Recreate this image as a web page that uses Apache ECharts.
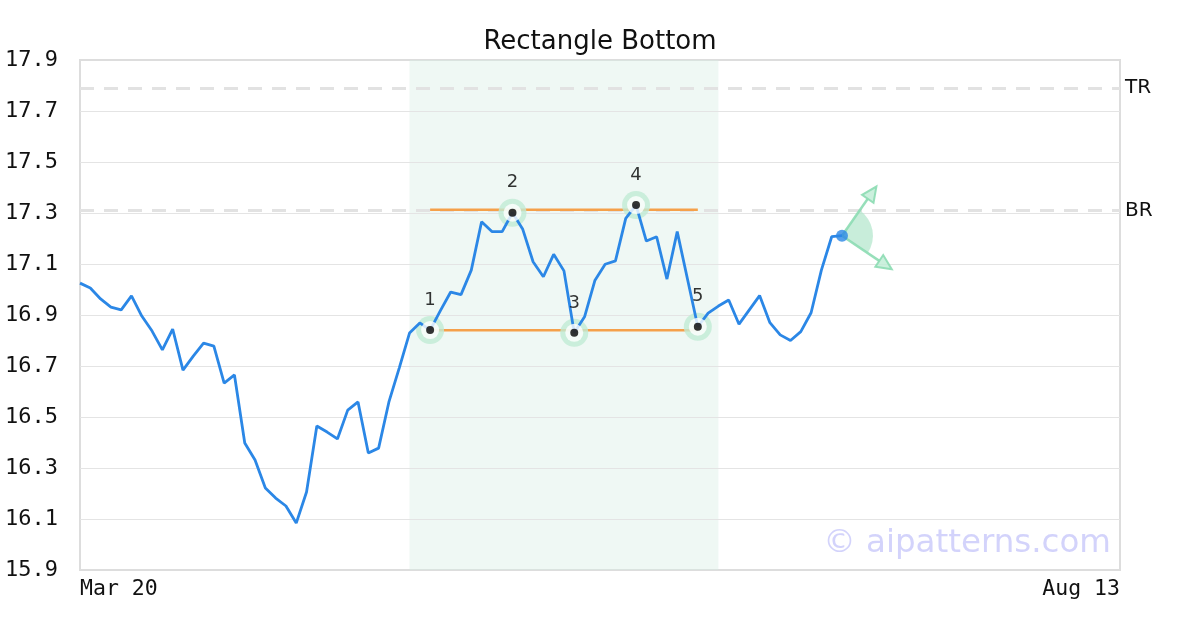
<!DOCTYPE html>
<html>
<head>
<meta charset="utf-8">
<script src="https://cdn.jsdelivr.net/npm/echarts@6/dist/echarts.min.js"></script>
<style>html,body{margin:0;padding:0;background:#fff}#c{width:1200px;height:630px}</style>
</head>
<body>
<div id="c"></div>
<script>
// ---- data ----
const slotCount = 102;              // x slots from Mar 20 to Aug 13
const xLabels = ['Mar 20', 'Aug 13'];
const price = [
  17.025, 17.006, 16.963, 16.931, 16.920, 16.975, 16.896, 16.837, 16.763, 16.845,
  16.684, 16.739, 16.790, 16.778, 16.633, 16.665, 16.398, 16.331, 16.222, 16.182,
  16.151, 16.084, 16.206, 16.465, 16.441, 16.414, 16.527, 16.559, 16.359, 16.378,
  16.559, 16.692, 16.829, 16.869, 16.841, 16.917, 16.990, 16.980, 17.076, 17.266,
  17.227, 17.227, 17.301, 17.236, 17.109, 17.050, 17.138, 17.073, 16.830, 16.893,
  17.035, 17.099, 17.112, 17.279, 17.331, 17.190, 17.207, 17.041, 17.227, 17.040,
  16.854, 16.907, 16.935, 16.959, 16.864, 16.920, 16.976, 16.870, 16.822, 16.800,
  16.835, 16.909, 17.076, 17.207, 17.211
];
const patternIdx = [34, 42, 48, 54, 60];
const patternLabels = ['1', '2', '3', '4', '5'];
const topLevel = 17.313;
const bottomLevel = 16.840;
const trLevel = 17.79;
const brLevel = 17.314;
const zoneStart = 32, zoneEnd = 62;
const yTicks = [15.9, 16.1, 16.3, 16.5, 16.7, 16.9, 17.1, 17.3, 17.5, 17.7, 17.9];

// ---- build ----
const lineData = price.map((v, i) => [i, v]);
const patternData = patternIdx.map((i, k) => ({ value: [i, price[i]], name: patternLabels[k] }));
const lastPt = [price.length - 1, price[price.length - 1]];
const lineColor = '#2b87e6';
const mono = 'DejaVu Sans Mono';

const chart = echarts.init(document.getElementById('c'), null, { renderer: 'canvas' });
chart.setOption({
  animation: false,
  backgroundColor: '#fff',
  title: {
    text: 'Rectangle Bottom', left: 'center', top: 24,
    textStyle: { fontFamily: 'DejaVu Sans', fontSize: 26, fontWeight: 'normal', color: '#111' }
  },
  grid: { left: 80, right: 80, top: 60, bottom: 60, show: true, borderColor: '#dddddd', borderWidth: 2, backgroundColor: 'transparent' },
  xAxis: {
    type: 'value', min: 0, max: slotCount - 1, interval: slotCount - 1,
    axisLine: { show: false }, axisTick: { show: false }, splitLine: { show: false },
    axisLabel: {
      fontFamily: mono, fontSize: 21.5, color: '#111', margin: 8,
      alignMinLabel: 'left', alignMaxLabel: 'right',
      formatter: v => (v === 0 ? xLabels[0] : xLabels[1])
    }
  },
  yAxis: {
    type: 'value', min: 15.9, max: 17.9, interval: 0.1,
    axisLine: { show: false }, axisTick: { show: false }, splitLine: { show: false },
    axisLabel: {
      fontFamily: mono, fontSize: 22, color: '#111', margin: 22,
      formatter: v => {
        const t = Math.round(v * 10);
        return t % 2 === 1 ? (t / 10).toFixed(1) : '';
      }
    }
  },
  series: [
    { // shaded zone
      type: 'line', data: [], z: 0, silent: true,
      markArea: { z: 0, silent: true, itemStyle: { color: 'rgba(214,238,228,0.4)' },
        data: [[{ xAxis: zoneStart }, { xAxis: zoneEnd }]] }
    },
    { // grid lines + TR/BR
      type: 'line', data: [], z: 1, silent: true,
      markLine: {
        z: 1, silent: true, symbol: 'none', animation: false,
        data: yTicks.slice(1, -1).map(v => ({ yAxis: v, lineStyle: { color: '#e4e4e4', width: 1, type: 'solid' }, label: { show: false } }))
          .concat([
            { yAxis: trLevel, lineStyle: { color: '#e2e2e2', width: 3, type: [14, 10] },
              label: { show: true, position: 'end', formatter: 'TR', fontFamily: 'DejaVu Sans', fontSize: 20, color: '#111', distance: 5 } },
            { yAxis: brLevel, lineStyle: { color: '#e2e2e2', width: 3, type: [14, 10] },
              label: { show: true, position: 'end', formatter: 'BR', fontFamily: 'DejaVu Sans', fontSize: 20, color: '#111', distance: 5 } }
          ])
      }
    },
    { type: 'line', z: 11, data: [[patternIdx[0], topLevel], [patternIdx[4], topLevel]], showSymbol: false,
      lineStyle: { color: '#f5a04a', width: 2.5 }, silent: true },
    { type: 'line', z: 11, data: [[patternIdx[0], bottomLevel], [patternIdx[4], bottomLevel]], showSymbol: false,
      lineStyle: { color: '#f5a04a', width: 2.5 }, silent: true },
    { // halos
      type: 'scatter', data: patternData.map(d => d.value), z: 12, silent: true,
      symbolSize: 28, itemStyle: { color: '#c0ebd4' }
    },
    { // price
      type: 'line', data: lineData, z: 13, showSymbol: false, silent: true,
      lineStyle: { color: lineColor, width: 2.8 }
    },
    { // white rings + labels
      type: 'scatter', data: patternData, z: 14, silent: true,
      symbolSize: 18, itemStyle: { color: '#fff' },
      label: { show: true, position: 'top', distance: 12, formatter: p => p.name,
        fontFamily: 'DejaVu Sans', fontSize: 18, color: '#000' }
    },
    { type: 'scatter', data: patternData.map(d => d.value), z: 15, silent: true,
      symbolSize: 8, itemStyle: { color: '#000' } },
    { type: 'scatter', data: [lastPt], z: 16, silent: true, symbolSize: 12, itemStyle: { color: lineColor } }
  ]
});

// prediction fan at last point
const p = chart.convertToPixel({ gridIndex: 0 }, lastPt);
const a1 = -55 * Math.PI / 180, a2 = 34 * Math.PI / 180, L = 60;
function arrow(a) {
  const ex = p[0] + L * Math.cos(a), ey = p[1] + L * Math.sin(a);
  const hl = 15, hw = 7;
  const bx = ex - hl * Math.cos(a), by = ey - hl * Math.sin(a);
  const nx = -Math.sin(a), ny = Math.cos(a);
  return [
    { type: 'line', shape: { x1: p[0], y1: p[1], x2: bx, y2: by }, style: { stroke: 'rgba(140,220,178,0.9)', lineWidth: 2.5 }, z: 10 },
    { type: 'polygon', shape: { points: [[ex, ey], [bx + nx * hw, by + ny * hw], [bx - nx * hw, by - ny * hw]] },
      style: { fill: 'rgba(190,236,212,0.8)', stroke: 'rgba(140,220,178,0.9)', lineWidth: 2 }, z: 10 }
  ];
}
chart.setOption({
  graphic: [
    { type: 'sector', shape: { cx: p[0], cy: p[1], r: 31, startAngle: a1, endAngle: a2, clockwise: true },
      style: { fill: 'rgba(176,230,202,0.7)' }, z: 9 },
    ...arrow(a1), ...arrow(a2),
    { type: 'text', right: 89, top: 527,
      style: { text: '© aipatterns.com', fontFamily: 'DejaVu Sans', fontSize: 32.5, fill: 'rgba(200,200,250,0.8)' }, z: 8 }
  ]
});
</script>
</body>
</html>
